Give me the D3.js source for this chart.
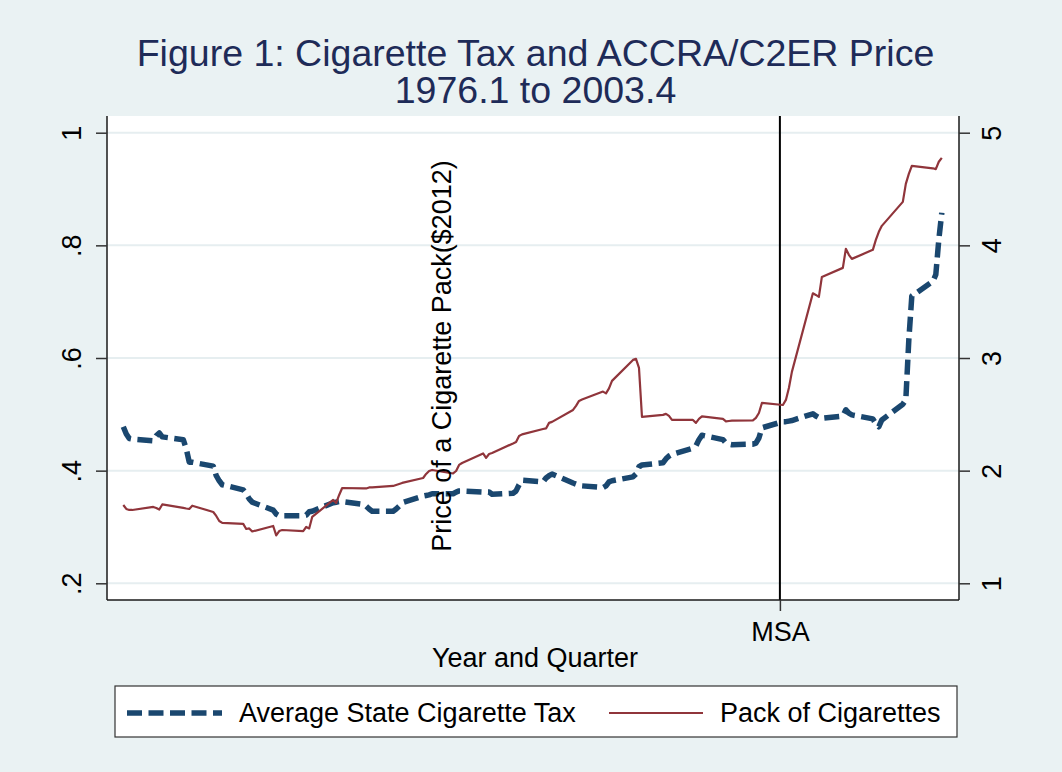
<!DOCTYPE html>
<html>
<head>
<meta charset="utf-8">
<script src="https://cdn.jsdelivr.net/npm/d3@7"></script>
<style>
  html, body { margin: 0; padding: 0; background: #eaf2f3; }
  svg { display: block; font-family: "Liberation Sans", Arial, Helvetica, sans-serif; }
</style>
</head>
<body>
<svg id="chart" width="1062" height="772"></svg>
<script>
// ---- data -------------------------------------------------------------
// Quarters are coded as year.quarter (1976.1 ... 2003.4) and plotted on that numeric scale.
const firstYear = 1976;
const lastYear = 2003;
const quarterLabels = d3.range(firstYear, lastYear + 1)
  .flatMap(y => [1, 2, 3, 4].map(q => `${y}.${q}`));

// Average state cigarette tax ($2012, left axis)
const taxValues = [
  0.478, 0.465, 0.457, 0.456,   // 1976
  0.453, 0.462, 0.467, 0.460,   // 1977
  0.455, 0.439, 0.415, 0.415,   // 1978
  0.408, 0.391, 0.382, 0.375,   // 1979
  0.366, 0.359, 0.350, 0.344,   // 1980
  0.330, 0.323, 0.320, 0.320,   // 1981
  0.320, 0.321, 0.327, 0.328,   // 1982
  0.343, 0.344, 0.345, 0.345,   // 1983
  0.340, 0.337, 0.332, 0.328,   // 1984
  0.328, 0.332, 0.337, 0.343,   // 1985
  0.355, 0.356, 0.357, 0.359,   // 1986
  0.359, 0.362, 0.364, 0.364,   // 1987
  0.362, 0.362, 0.362, 0.358,   // 1988
  0.360, 0.364, 0.375, 0.383,   // 1989
  0.380, 0.387, 0.391, 0.394,   // 1990
  0.378, 0.376, 0.375, 0.373,   // 1991
  0.370, 0.373, 0.380, 0.382,   // 1992
  0.389, 0.394, 0.407, 0.410,   // 1993
  0.414, 0.421, 0.426, 0.429,   // 1994
  0.440, 0.444, 0.455, 0.463,   // 1995
  0.455, 0.449, 0.447, 0.446,   // 1996
  0.447, 0.449, 0.458, 0.476,   // 1997
  0.487, 0.487, 0.488, 0.489,   // 1998
  0.501, 0.497, 0.494, 0.493,   // 1999
  0.497, 0.508, 0.502, 0.499,   // 2000
  0.492, 0.483, 0.478, 0.490,   // 2001
  0.518, 0.526, 0.632, 0.710,   // 2002
  0.736, 0.748, 0.810, 0.858    // 2003
];

// Price of a pack of cigarettes ($2012, right axis)
const priceValues = [
  1.695, 1.660, 1.651, 1.651,   // 1976
  1.678, 1.669, 1.655, 1.700,   // 1977
  1.669, 1.664, 1.660, 1.689,   // 1978
  1.633, 1.598, 1.553, 1.536,   // 1979
  1.527, 1.482, 1.487, 1.460,   // 1980
  1.509, 1.425, 1.464, 1.473,   // 1981
  1.464, 1.500, 1.487, 1.589,   // 1982
  1.740, 1.713, 1.784, 1.846,   // 1983
  1.842, 1.842, 1.851, 1.851,   // 1984
  1.864, 1.873, 1.882, 1.891,   // 1985
  1.935, 1.971, 1.997, 2.006,   // 1986
  1.975, 1.997, 2.051, 2.068,   // 1987
  2.153, 2.113, 2.148, 2.157,   // 1988
  2.242, 2.255, 2.308, 2.322,   // 1989
  2.370, 2.375, 2.424, 2.433,   // 1990
  2.539, 2.575, 2.619, 2.632,   // 1991
  2.702, 2.686, 2.730, 2.797,   // 1992
  2.983, 2.992, 2.912, 2.477,   // 1993
  2.495, 2.504, 2.486, 2.450,   // 1994
  2.450, 2.424, 2.459, 2.481,   // 1995
  2.459, 2.437, 2.441, 2.444,   // 1996
  2.446, 2.468, 2.512, 2.601,   // 1997
  2.583, 2.628, 2.734, 2.877,   // 1998
  3.574, 3.560, 3.543, 3.720,   // 1999
  3.800, 3.969, 3.916, 3.880,   // 2000
  3.960, 4.049, 4.120, 4.173,   // 2001
  4.386, 4.546, 4.635, 4.706,   // 2002
  4.684, 4.677, 4.742, 4.777    // 2003
];

const leftTicks = [0.2, 0.4, 0.6, 0.8, 1];
const leftTickLabels = [".2", ".4", ".6", ".8", "1"];
const rightTicks = [1, 2, 3, 4, 5];
const rightTickLabels = ["1", "2", "3", "4", "5"];
const eventTicks = [1998];            // Master Settlement Agreement
const eventTickLabels = ["MSA"];
const seriesNames = ["Average State Cigarette Tax", "Pack of Cigarettes"];
const titleLines = ["Figure 1: Cigarette Tax and ACCRA/C2ER Price", "1976.1 to 2003.4"];
const xTitle = "Year and Quarter";
const yTitle = "Price of a Cigarette Pack($2012)";

// ---- layout -----------------------------------------------------------
const W = 1062, H = 772;
const plot = { left: 107, right: 959, top: 116, bottom: 600 };
const inner = { left: 123.3, right: 941.8, top: 132.7, bottom: 583.3 };
const colors = { bg: "#eaf2f3", tax: "#1a476f", price: "#90353b", title: "#1e2b58", grid: "#e6eef0", axis: "#1a1a1a" };
const fontSize = 27;
const taxDash = "15,6.5";

const svg = d3.select("#chart");

const quarterNums = quarterLabels.map(Number);
const x = d3.scaleLinear().domain([d3.min(quarterNums), d3.max(quarterNums)]).range([inner.left, inner.right]);
const yL = d3.scaleLinear().domain([0.2, 1]).range([inner.bottom, inner.top]);
const yR = d3.scaleLinear().domain([1, 5]).range([inner.bottom, inner.top]);

// backgrounds
svg.append("rect").attr("width", W).attr("height", H).attr("fill", colors.bg);
svg.append("rect")
  .attr("x", plot.left).attr("y", plot.top)
  .attr("width", plot.right - plot.left).attr("height", plot.bottom - plot.top)
  .attr("fill", "#ffffff");

// horizontal grid lines at the left-axis ticks
svg.append("g").selectAll("line").data(leftTicks).join("line")
  .attr("x1", plot.left).attr("x2", plot.right)
  .attr("y1", d => yL(d)).attr("y2", d => yL(d))
  .attr("stroke", colors.grid).attr("stroke-width", 2);

// MSA reference line
svg.append("g").selectAll("line").data(eventTicks).join("line")
  .attr("x1", d => x(d)).attr("x2", d => x(d))
  .attr("y1", plot.top).attr("y2", plot.bottom)
  .attr("stroke", "#000").attr("stroke-width", 2);

// series
const taxData = quarterNums.map((t, i) => ({ t, v: taxValues[i] }));
const priceData = quarterNums.map((t, i) => ({ t, v: priceValues[i] }));

svg.append("path").datum(taxData)
  .attr("d", d3.line().x(d => x(d.t)).y(d => yL(d.v)))
  .attr("fill", "none").attr("stroke", colors.tax)
  .attr("stroke-width", 5.5).attr("stroke-dasharray", taxDash)
  .attr("stroke-linejoin", "round").attr("stroke-linecap", "butt");

svg.append("path").datum(priceData)
  .attr("d", d3.line().x(d => x(d.t)).y(d => yR(d.v)))
  .attr("fill", "none").attr("stroke", colors.price)
  .attr("stroke-width", 2.2).attr("stroke-linejoin", "round");

// axis lines (left, right, bottom)
const frame = svg.append("g").attr("stroke", colors.axis).attr("stroke-width", 1.5);
frame.append("line").attr("x1", plot.left).attr("x2", plot.left).attr("y1", plot.top).attr("y2", plot.bottom);
frame.append("line").attr("x1", plot.right).attr("x2", plot.right).attr("y1", plot.top).attr("y2", plot.bottom);
frame.append("line").attr("x1", plot.left).attr("x2", plot.right).attr("y1", plot.bottom).attr("y2", plot.bottom);

// axes
function styleAxis(g) {
  g.select(".domain").remove();
  g.selectAll(".tick line").attr("stroke", "#333").attr("stroke-width", 1.5);
  g.selectAll(".tick text").attr("fill", "#000")
    .style("font-size", fontSize + "px")
    .style("font-family", '"Liberation Sans", Arial, Helvetica, sans-serif');
}

const leftAxis = svg.append("g")
  .attr("transform", `translate(${plot.left},0)`)
  .call(d3.axisLeft(yL).tickValues(leftTicks).tickSize(11)
    .tickFormat((d, i) => leftTickLabels[i]))
  .call(styleAxis);
leftAxis.selectAll(".tick text")
  .attr("transform", "rotate(-90)")
  .attr("x", 0).attr("y", -26).attr("dy", 0)
  .attr("text-anchor", "middle");

const rightAxis = svg.append("g")
  .attr("transform", `translate(${plot.right},0)`)
  .call(d3.axisRight(yR).tickValues(rightTicks).tickSize(11)
    .tickFormat((d, i) => rightTickLabels[i]))
  .call(styleAxis);
rightAxis.selectAll(".tick text")
  .attr("transform", "rotate(-90)")
  .attr("x", 0).attr("y", 42).attr("dy", 0)
  .attr("text-anchor", "middle");

const bottomAxis = svg.append("g")
  .attr("transform", `translate(0,${plot.bottom})`)
  .call(d3.axisBottom(x).tickValues(eventTicks).tickSize(11)
    .tickFormat((d, i) => eventTickLabels[i]))
  .call(styleAxis);
bottomAxis.selectAll(".tick text").attr("y", 41).attr("dy", 0);

// axis titles
svg.append("text")
  .attr("transform", `translate(451,${(plot.top + plot.bottom) / 2 - 2}) rotate(-90)`)
  .attr("text-anchor", "middle")
  .attr("font-size", fontSize).attr("fill", "#000")
  .text(yTitle);

svg.append("text")
  .attr("x", 535).attr("y", 667)
  .attr("text-anchor", "middle")
  .attr("font-size", fontSize).attr("fill", "#000")
  .text(xTitle);

// title
svg.append("g").selectAll("text").data(titleLines).join("text")
  .attr("x", 535.5).attr("y", (d, i) => 66 + i * 37)
  .attr("text-anchor", "middle")
  .attr("font-size", 37.5).attr("fill", colors.title)
  .text(d => d);

// legend
const legend = svg.append("g");
legend.append("rect")
  .attr("x", 115).attr("y", 686).attr("width", 842).attr("height", 51)
  .attr("fill", "#fff").attr("stroke", "#333").attr("stroke-width", 1.2);

const legendItems = [
  { name: seriesNames[0], color: colors.tax, width: 5.5, dash: taxDash, x1: 127, x2: 222, tx: 239 },
  { name: seriesNames[1], color: colors.price, width: 2.2, dash: null, x1: 609, x2: 703, tx: 720 }
];
legendItems.forEach(it => {
  legend.append("line")
    .attr("x1", it.x1).attr("x2", it.x2).attr("y1", 713).attr("y2", 713)
    .attr("stroke", it.color).attr("stroke-width", it.width)
    .attr("stroke-dasharray", it.dash);
  legend.append("text")
    .attr("x", it.tx).attr("y", 722)
    .attr("font-size", fontSize).attr("fill", "#000")
    .text(it.name);
});
</script>
</body>
</html>
